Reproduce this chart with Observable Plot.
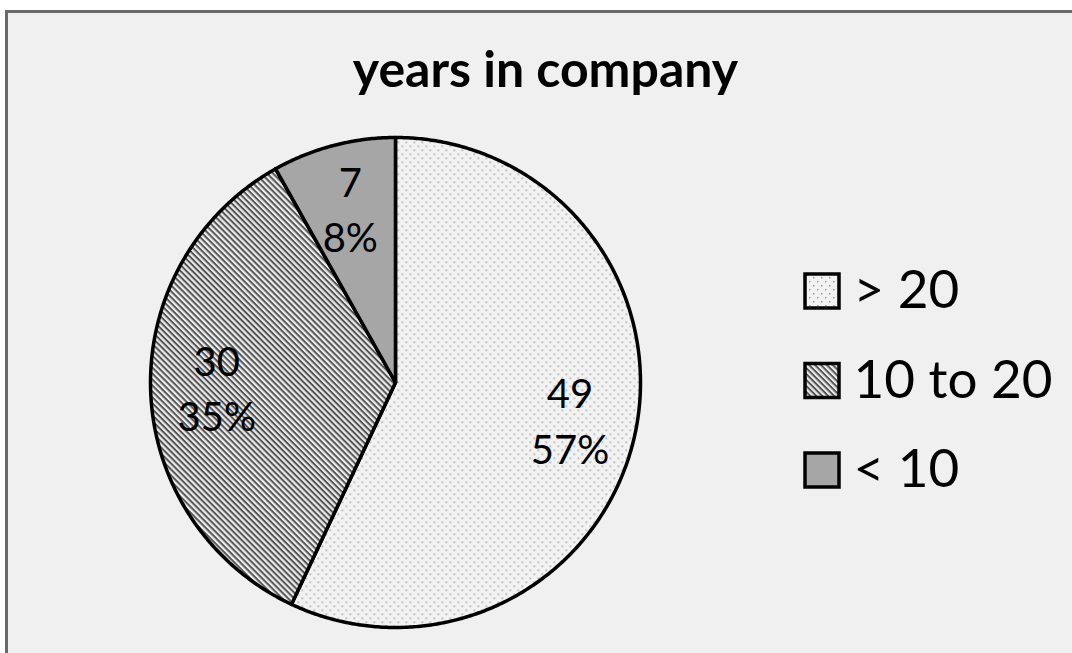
<!DOCTYPE html>
<html><head><meta charset="utf-8">
<script src="https://cdn.jsdelivr.net/npm/d3@7"></script>
<script src="https://cdn.jsdelivr.net/npm/@observablehq/plot@0.6"></script>
<style>
html,body{margin:0;padding:0;background:#fff;overflow:hidden;}
#wrap{position:relative;width:1072px;height:653px;overflow:hidden;background:#fff;}
#frame{position:absolute;left:5px;top:10px;width:1200px;height:800px;border-top:3px solid #6a6a6a;border-left:3px solid #6a6a6a;background:#f0f0f0;}
#chart{position:absolute;left:0;top:0;}
</style></head><body>
<div id="wrap">
<div id="frame"></div>
<div id="chart"></div>
</div>
<script>
const title = "years in company";
const categories = ["> 20", "10 to 20", "< 10"];
const counts = [49, 30, 7];
const fills = ["url(#dots)", "url(#hatch)", "#a6a6a6"];

// layout constants
const W = 1072, H = 653;
const cx = 395, cy = 382, R = 245;
const labelFrac = 0.73;

const total = d3.sum(counts);
const arcs = d3.pie().sort(null).value(d => d)(counts);

const slicePts = [];
arcs.forEach((a, i) => {
  slicePts.push({cat: categories[i], x: cx, y: cy});
  const n = Math.max(2, Math.ceil((a.endAngle - a.startAngle) / (Math.PI / 360)));
  for (let k = 0; k <= n; k++) {
    const t = a.startAngle + (a.endAngle - a.startAngle) * k / n;
    slicePts.push({cat: categories[i], x: cx + R * Math.sin(t), y: cy - R * Math.cos(t)});
  }
});

const labels = arcs.map((a, i) => {
  const m = (a.startAngle + a.endAngle) / 2;
  return {
    x: cx + R * labelFrac * Math.sin(m),
    y: cy - R * labelFrac * Math.cos(m) - 3,
    text: counts[i] + "\n" + Math.round(counts[i] / total * 100) + "%"
  };
});

const legX = 805, legSize = 34, legY0 = 291, legStep = 89.5;
const legend = categories.map((c, i) => ({cat: c, y: legY0 + i * legStep}));

const plot = Plot.plot({
  width: W, height: H,
  margin: 0,
  style: {background: "transparent", fontFamily: "Lato, 'Open Sans', sans-serif", color: "#000"},
  x: {domain: [0, W], range: [0, W], axis: null},
  y: {domain: [0, H], range: [0, H], axis: null},
  color: {type: "ordinal", domain: categories, range: fills},
  marks: [
    Plot.line(slicePts, {x: "x", y: "y", z: "cat", fill: "cat", stroke: "#000", strokeWidth: 3.5,
      curve: "linear-closed", strokeLinejoin: "round"}),
    Plot.text(labels, {x: "x", y: "y", text: "text", fontSize: 40, lineHeight: 1.38, fill: "#000"}),
    Plot.text([title], {x: () => 545, y: () => 70, text: d => d, fontSize: 50, fontWeight: "bold", fill: "#000"}),
    Plot.rect(legend, {x1: () => legX, x2: () => legX + legSize, y1: d => d.y - legSize / 2, y2: d => d.y + legSize / 2,
      fill: "cat", stroke: "#000", strokeWidth: 3.5}),
    Plot.text(legend, {x: () => legX + 48, y: "y", text: "cat", textAnchor: "start", fontSize: 53, fill: "#000"})
  ]
});

const svg = d3.select(plot);
const defs = svg.insert("defs", ":first-child");
const dots = defs.append("pattern").attr("id", "dots").attr("patternUnits", "userSpaceOnUse")
  .attr("width", 8).attr("height", 8);
dots.append("rect").attr("width", 8).attr("height", 8).attr("fill", "#f2f2f2");
dots.append("rect").attr("x", 1).attr("y", 1).attr("width", 1.5).attr("height", 1.5).attr("fill", "#9a9a9a");
dots.append("rect").attr("x", 5).attr("y", 5).attr("width", 1.5).attr("height", 1.5).attr("fill", "#9a9a9a");
const hatch = defs.append("pattern").attr("id", "hatch").attr("patternUnits", "userSpaceOnUse")
  .attr("width", 4.2).attr("height", 4.2).attr("patternTransform", "rotate(45)");
hatch.append("rect").attr("width", 4.2).attr("height", 4.2).attr("fill", "#ececec");
hatch.append("rect").attr("y", 0).attr("width", 4.2).attr("height", 2).attr("fill", "#555");

document.getElementById("chart").appendChild(plot);
</script>
</body></html>
